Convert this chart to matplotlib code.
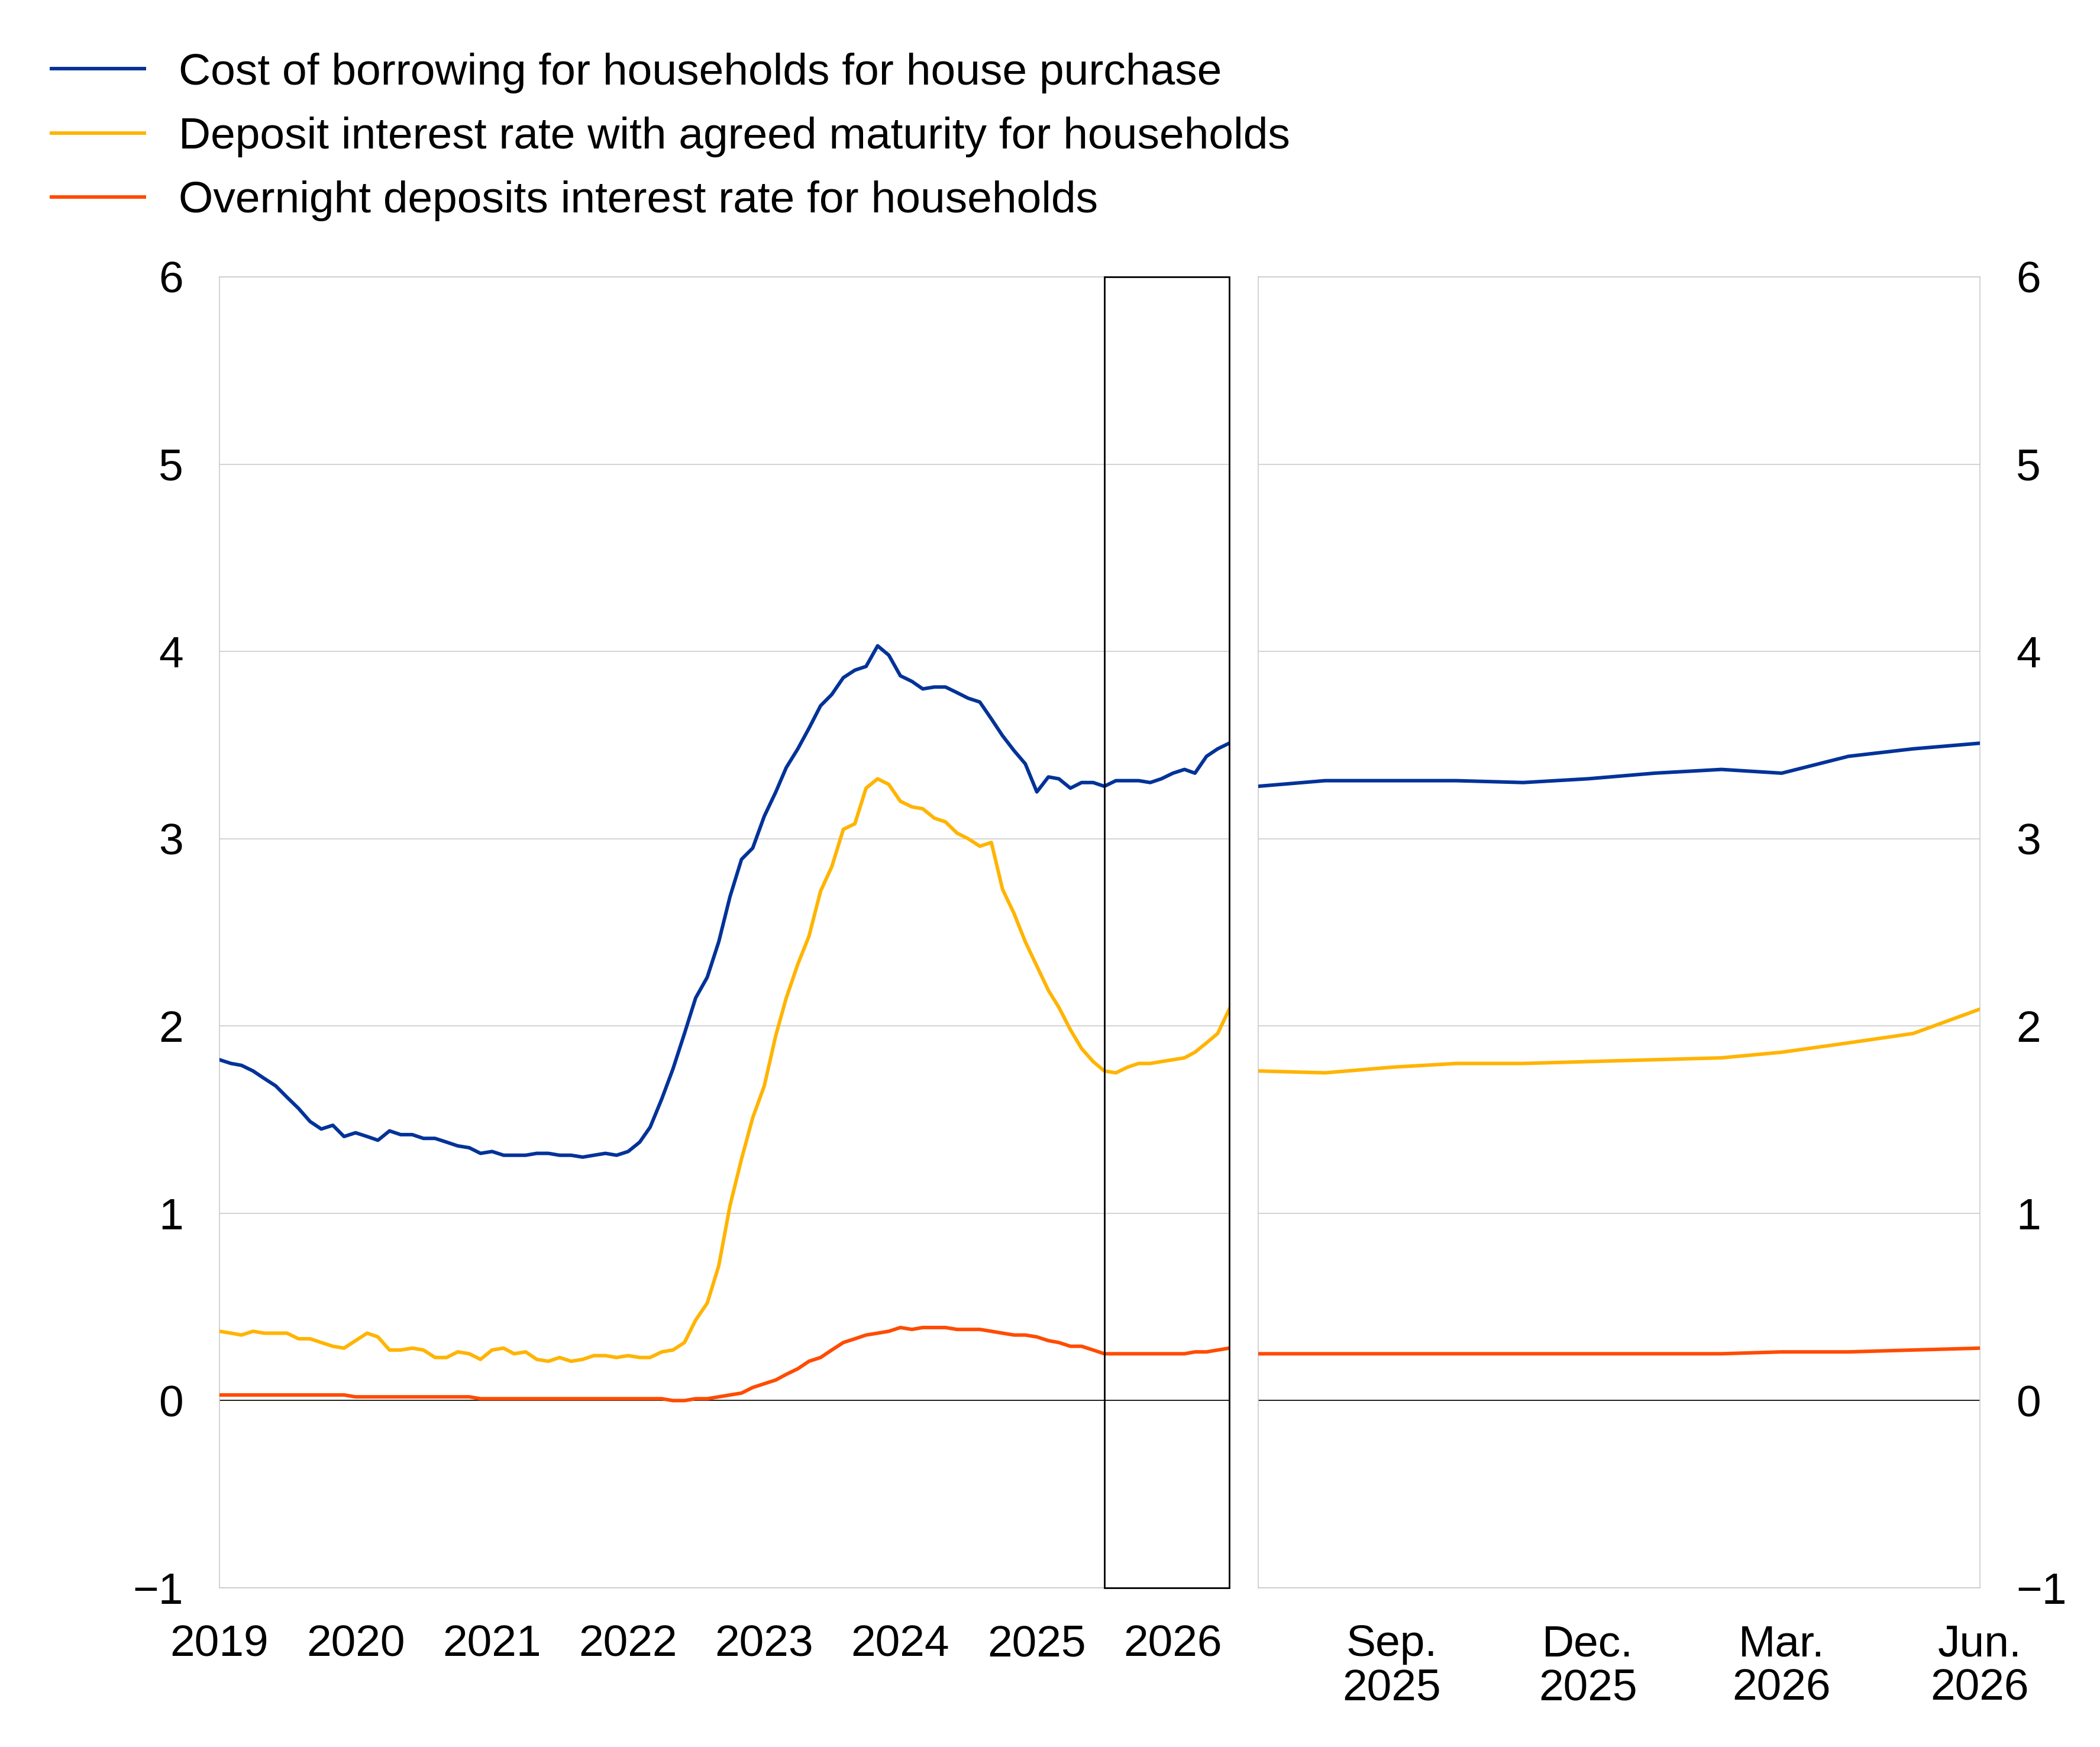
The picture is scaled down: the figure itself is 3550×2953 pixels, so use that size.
import matplotlib
matplotlib.use('Agg')
import matplotlib.pyplot as plt
import matplotlib.dates as mdates
from matplotlib.patches import Rectangle
import pandas as pd

plt.rcParams['font.family'] = ['Liberation Sans', 'DejaVu Sans']

# ---------------- data ----------------
months = pd.date_range('2019-01-01', '2026-06-01', freq='MS')

borrowing = [
    1.82, 1.80, 1.79, 1.76, 1.72, 1.68, 1.62, 1.56, 1.49, 1.45, 1.47, 1.41,   # 2019
    1.43, 1.41, 1.39, 1.44, 1.42, 1.42, 1.40, 1.40, 1.38, 1.36, 1.35, 1.32,   # 2020
    1.33, 1.31, 1.31, 1.31, 1.32, 1.32, 1.31, 1.31, 1.30, 1.31, 1.32, 1.31,   # 2021
    1.33, 1.38, 1.46, 1.61, 1.77, 1.96, 2.15, 2.26, 2.45, 2.69, 2.89, 2.95,   # 2022
    3.12, 3.25, 3.38, 3.48, 3.59, 3.71, 3.77, 3.86, 3.90, 3.92, 4.03, 3.98,   # 2023
    3.87, 3.84, 3.80, 3.81, 3.81, 3.78, 3.75, 3.73, 3.64, 3.55, 3.47, 3.40,   # 2024
    3.25, 3.33, 3.32, 3.27, 3.30, 3.30, 3.28, 3.31, 3.31, 3.31, 3.30, 3.32,   # 2025
    3.35, 3.37, 3.35, 3.44, 3.48, 3.51,                                       # 2026
]

deposit_agreed = [
    0.37, 0.36, 0.35, 0.37, 0.36, 0.36, 0.36, 0.33, 0.33, 0.31, 0.29, 0.28,
    0.32, 0.36, 0.34, 0.27, 0.27, 0.28, 0.27, 0.23, 0.23, 0.26, 0.25, 0.22,
    0.27, 0.28, 0.25, 0.26, 0.22, 0.21, 0.23, 0.21, 0.22, 0.24, 0.24, 0.23,
    0.24, 0.23, 0.23, 0.26, 0.27, 0.31, 0.43, 0.52, 0.72, 1.04, 1.29, 1.51,
    1.68, 1.95, 2.15, 2.33, 2.48, 2.72, 2.85, 3.05, 3.08, 3.27, 3.32, 3.29,
    3.20, 3.17, 3.16, 3.11, 3.09, 3.03, 3.00, 2.96, 2.98, 2.73, 2.60, 2.45,
    2.32, 2.19, 2.10, 1.98, 1.88, 1.81, 1.76, 1.75, 1.78, 1.80, 1.80, 1.81,
    1.82, 1.83, 1.86, 1.91, 1.96, 2.09,
]

overnight = [
    0.03, 0.03, 0.03, 0.03, 0.03, 0.03, 0.03, 0.03, 0.03, 0.03, 0.03, 0.03,
    0.02, 0.02, 0.02, 0.02, 0.02, 0.02, 0.02, 0.02, 0.02, 0.02, 0.02, 0.01,
    0.01, 0.01, 0.01, 0.01, 0.01, 0.01, 0.01, 0.01, 0.01, 0.01, 0.01, 0.01,
    0.01, 0.01, 0.01, 0.01, 0.00, 0.00, 0.01, 0.01, 0.02, 0.03, 0.04, 0.07,
    0.09, 0.11, 0.14, 0.17, 0.21, 0.23, 0.27, 0.31, 0.33, 0.35, 0.36, 0.37,
    0.39, 0.38, 0.39, 0.39, 0.39, 0.38, 0.38, 0.38, 0.37, 0.36, 0.35, 0.35,
    0.34, 0.32, 0.31, 0.29, 0.29, 0.27, 0.25, 0.25, 0.25, 0.25, 0.25, 0.25,
    0.25, 0.25, 0.26, 0.26, 0.27, 0.28,
]

series_labels = [
    'Cost of borrowing for households for house purchase',
    'Deposit interest rate with agreed maturity for households',
    'Overnight deposits interest rate for households',
]
series_colors = ['#003299', '#FFB400', '#FF4B00']

year_ticks = pd.date_range('2019-01-01', '2026-01-01', freq='YS')
year_tick_labels = ['2019', '2020', '2021', '2022', '2023', '2024', '2025', '2026']

zoom_start = pd.Timestamp('2025-07-01')
zoom_end = pd.Timestamp('2026-06-01')
zoom_ticks = pd.to_datetime(['2025-09-01', '2025-12-01', '2026-03-01', '2026-06-01'])
zoom_tick_labels = ['Sep.\n2025', 'Dec.\n2025', 'Mar.\n2026', 'Jun.\n2026']

y_ticks = [-1, 0, 1, 2, 3, 4, 5, 6]

# ---------------- figure ----------------
FS = 54
GRID = '#c8c8c8'
LW = 4.3

fig = plt.figure(figsize=(35.5, 29.53), dpi=100)
ax1 = fig.add_axes([0.10451, 0.09109, 0.48085, 0.75043])
ax2 = fig.add_axes([0.59915, 0.09109, 0.34366, 0.75043])

df = pd.DataFrame({'b': borrowing, 'd': deposit_agreed, 'o': overnight}, index=months)
zoom_df = df.loc[zoom_start:zoom_end]

handles = []
for col, lab, c in zip(['b', 'd', 'o'], series_labels, series_colors):
    h, = ax1.plot(df.index, df[col], color=c, lw=LW, label=lab, zorder=3)
    ax2.plot(zoom_df.index, zoom_df[col], color=c, lw=LW, zorder=3)
    handles.append(h)

for ax in (ax1, ax2):
    ax.set_ylim(-1, 6)
    ax.set_yticks(y_ticks)
    ax.grid(axis='y', color=GRID, lw=1.1)
    ax.grid(axis='x', visible=False)
    ax.set_axisbelow(True)
    ax.axhline(0, color='#000000', lw=1.2, zorder=2)
    for s in ax.spines.values():
        s.set_color(GRID)
        s.set_linewidth(1.1)
    ax.tick_params(length=0, labelsize=FS, pad=44)

ax1.set_xlim(months[0], months[-1])
ax1.set_xticks(year_ticks)
ax1.set_xticklabels(year_tick_labels)

ax2.set_xlim(zoom_start, zoom_end)
ax2.set_xticks(zoom_ticks)
ax2.set_xticklabels(zoom_tick_labels, linespacing=1.1)
ax2.yaxis.tick_right()
ax2.tick_params(labelleft=False, labelright=True)

x0 = mdates.date2num(zoom_start)
x1 = mdates.date2num(zoom_end)
ax1.add_patch(Rectangle((x0, -1), x1 - x0, 7, fill=False, ec='black', lw=2.0,
                        clip_on=False, zorder=5))

fig.legend(handles, series_labels, loc='upper left', bbox_to_anchor=(0.0245, 0.970),
           frameon=False, fontsize=FS, handlelength=2.09, handletextpad=0.78,
           labelspacing=0.523, borderaxespad=0, borderpad=0)

fig.savefig('out.png', dpi=100)
